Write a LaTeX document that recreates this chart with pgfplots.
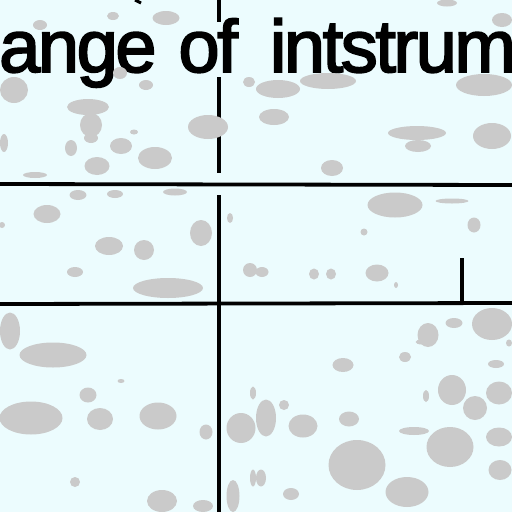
\documentclass[border=0pt]{standalone}
\usepackage{fontspec}
\setmainfont{Liberation Sans}
\newfontfamily\titlefont{Liberation Sans}[FakeBold=2.5, LetterSpace=-3.3]
\usepackage{pgfplots}
\usepackage{pgfplotstable}
\pgfplotsset{compat=1.18}

\definecolor{paper}{RGB}{236,252,254}
\definecolor{blotch}{RGB}{202,202,202}

% elliptical blot, size taken from the table columns w and h
\pgfdeclareplotmark{blob}{%
  \pgfpathellipse{\pgfpointorigin}%
    {\pgfpoint{0.5*\blobw pt}{0pt}}{\pgfpoint{0pt}{0.5*\blobh pt}}%
  \pgfusepathqfill}

% x y w h, in pixels, y counted from the top
\pgfplotstableread{
x y w h
166 18 27 14
447 3 20 7
502 20 20 14
113 16 12 8
40 25 14 10
14 90 28 26
120 73 14 12
146 85 14 10
278 89 44 18
328 81 56 16
484 85 56 22
249 82 12 10
88 107 42 16
91 125 22 24
91 138 14 10
4 143 8 18
71 148 12 16
121 146 22 16
155 158 34 22
97 166 25 18
35 175 24 6
208 127 40 24
274 117 30 16
417 133 58 14
418 146 26 12
492 136 38 26
332 168 22 16
134 132 8 5
47 214 27 18
109 246 28 18
144 250 20 20
75 272 16 10
168 288 70 20
201 233 22 26
2 225 6 6
78 195 17 10
115 194 16 8
175 192 24 7
250 270 14 14
230 218 6 10
395 205 55 25
474 225 13 15
364 232 7 7
262 272 13 10
314 274 10 11
331 274 10 11
377 273 23 17
396 285 4 6
452 201 33 5
428 335 21 24
454 323 17 10
492 324 40 32
10 331 20 37
53 355 67 25
31 418 63 33
88 395 17 15
100 419 26 22
158 416 37 27
121 381 7 4
206 432 13 15
241 428 29 30
253 393 6 13
75 482 10 10
162 501 30 22
203 506 20 12
233 496 13 32
253 478 6 17
343 365 21 14
266 418 20 37
284 405 10 10
303 426 29 23
349 419 20 15
357 465 57 50
407 492 43 30
414 431 30 8
450 447 47 40
452 390 28 30
475 408 24 24
499 393 26 23
499 437 26 19
500 470 23 20
405 357 12 10
496 364 16 8
426 396 6 12
261 478 10 17
291 494 16 12
422 342 13 5
509 343 6 7
}\blots

\begin{document}
\begin{tikzpicture}
\begin{axis}[
    scale only axis,
    width=512pt, height=512pt,
    xmin=0, xmax=512,
    ymin=0, ymax=512,
    y dir=reverse,
    axis lines=none,
    ticks=none,
]

% paper
\addplot[fill=paper, draw=none] coordinates {(0,0) (512,0) (512,512) (0,512)} -- cycle;

% grey blots
\addplot[only marks, mark=blob, color=blotch, mark options={fill=blotch, draw=none},
    visualization depends on={\thisrow{w} \as \blobw},
    visualization depends on={\thisrow{h} \as \blobh}]
    table[x=x, y=y] {\blots};

% grid lines
\addplot[black, line width=3.8pt] coordinates {(0,184) (512,185)};
\addplot[black, line width=3.8pt] coordinates {(0,304) (512,303)};
\addplot[black, line width=3.8pt] coordinates {(219,0) (219,22)};
\addplot[black, line width=3.8pt] coordinates {(219,77) (219,173)};
\addplot[black, line width=3.8pt] coordinates {(219,195) (219,512)};
\addplot[black, line width=3.8pt] coordinates {(462,258) (462,303)};
\addplot[black, line width=3pt] coordinates {(135,0) (141,3)};

\node[anchor=base west, inner sep=0pt, font=\titlefont\fontsize{74}{74}\selectfont]
    at (axis cs:-1,72) {ange\hspace{4pt} of \hspace{14pt}intstrum};
\end{axis}
\pgfresetboundingbox
\path[use as bounding box] (current axis.south west) rectangle (current axis.north east);
\end{tikzpicture}
\end{document}
